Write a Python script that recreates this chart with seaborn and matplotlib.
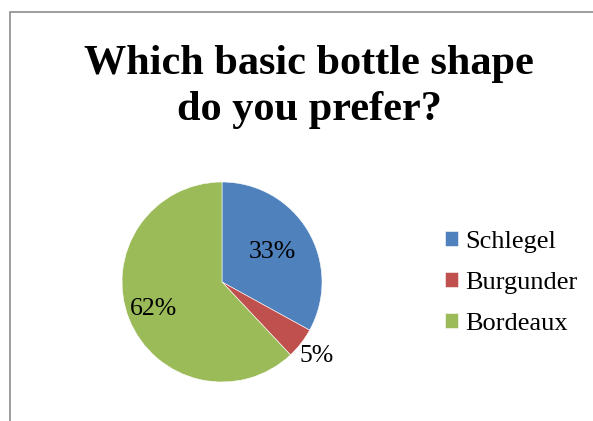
import numpy as np
import matplotlib
matplotlib.use("Agg")
import matplotlib.pyplot as plt
import seaborn as sns
from matplotlib.patches import Rectangle

# datos del grafico
categorias = ["Schlegel", "Burgunder", "Bordeaux"]
porcentajes = [33, 5, 62]
colores = ["#4F81BD", "#C0504D", "#9BBB59"]
titulo = "Which basic bottle shape\ndo you prefer?"

sns.set_theme(style="white")
plt.rcParams["font.family"] = ["Liberation Serif", "DejaVu Serif"]
plt.rcParams["text.color"] = "black"

fig = plt.figure(figsize=(5.93, 4.21), dpi=100)

# marco del area del grafico (solo se ve arriba y a la izquierda)
fig.patches.append(Rectangle((10 / 593, -0.1), 1.2, (421 - 12) / 421 + 0.1,
                             transform=fig.transFigure, fill=False,
                             edgecolor="#8c8c8c", linewidth=1.2))

fig.text(309 / 593, 1 - 87 / 421, titulo, ha="center", va="center", fontsize=30.4,
         fontweight="bold", linespacing=1.25)

ax = fig.add_axes([122 / 593, 39 / 421, 200 / 593, 200 / 421])
wedges, _ = ax.pie(porcentajes, colors=sns.color_palette(colores), startangle=90,
                   counterclock=False, radius=1,
                   wedgeprops=dict(edgecolor="white", linewidth=0.4))
ax.set_xlim(-1, 1)
ax.set_ylim(-1, 1)
ax.set_aspect("equal")
ax.axis("off")

# etiquetas de porcentaje (Excel "best fit")
dist = [0.58, 1.2, 0.74]
for w, p, d in zip(wedges, porcentajes, dist):
    ang = np.deg2rad((w.theta1 + w.theta2) / 2)
    ax.text(d * np.cos(ang), d * np.sin(ang), f"{p}%", ha="center", va="center",
            fontsize=18.5, clip_on=False)

fig.legend(wedges, categorias, loc="center left", bbox_to_anchor=(421 / 593, 1 - 283 / 421),
           frameon=False, fontsize=19, handlelength=0.5, handleheight=0.5,
           handletextpad=0.27, labelspacing=0.72)

fig.savefig("out.png", dpi=100)
